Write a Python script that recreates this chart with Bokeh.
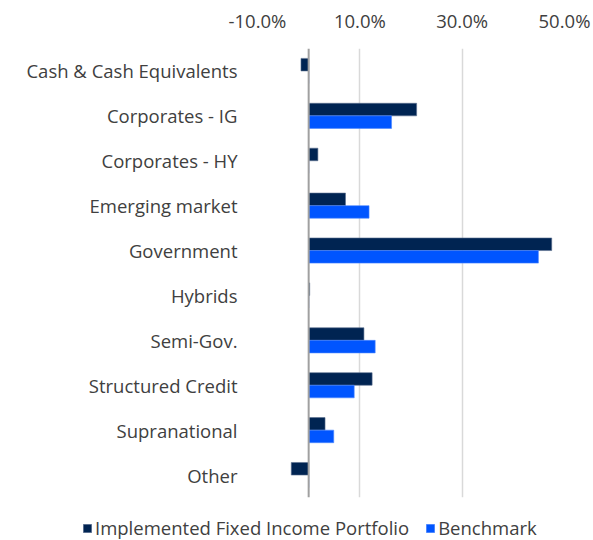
from bokeh.plotting import figure
from bokeh.layouts import column
from bokeh.models import (Span, Legend, LegendItem, FixedTicker, Range1d,
                          FactorRange, CustomJSTickFormatter, ColumnDataSource)
from bokeh.transform import dodge
from bokeh.embed import file_html
from bokeh.resources import INLINE

categories = ["Cash & Cash Equivalents", "Corporates - IG", "Corporates - HY",
              "Emerging market", "Government", "Hybrids", "Semi-Gov.",
              "Structured Credit", "Supranational", "Other"]
portfolio = [-1.5, 21.1, 1.8, 7.2, 47.5, 0.2, 10.8, 12.4, 3.2, -3.4]
benchmark = [0.0, 16.2, 0.0, 11.8, 44.9, 0.0, 13.0, 8.9, 4.9, 0.0]
x_ticks = [-10, 10, 30, 50]
series_names = ["Implemented Fixed Income Portfolio", "Benchmark"]

DARK = "#002452"
BLUE = "#0055FF"
TEXT = "#404040"
FONT = "Open Sans"
FS = "18.5px"

p = figure(width=593, height=505, output_backend="svg", toolbar_location=None,
           y_range=FactorRange(factors=list(reversed(categories)), range_padding=0),
           x_range=Range1d(-10, 50), x_axis_location="above",
           min_border_left=257, min_border_right=29, min_border_top=48,
           min_border_bottom=8)
p.outline_line_color = None

src = dict(cat=categories, port=portfolio, bench=benchmark)

p.hbar(y=dodge("cat", 0.14, range=p.y_range), right="port", left=0, height=0.28,
       source=src, fill_color=DARK, line_color="#5a6f8f", line_width=0.6)
p.hbar(y=dodge("cat", -0.14, range=p.y_range), right="bench", left=0, height=0.28,
       source=src, fill_color=BLUE, line_color="#4d88ff", line_width=0.6)

p.add_layout(Span(location=0, dimension="height", line_color="#a0a0a0", line_width=2))

p.xaxis.ticker = FixedTicker(ticks=x_ticks)
p.xaxis.formatter = CustomJSTickFormatter(code="return tick.toFixed(1) + '%';")
for ax in (p.xaxis, p.yaxis):
    ax.axis_line_color = None
    ax.major_tick_line_color = None
    ax.minor_tick_line_color = None
    ax.major_label_text_font = FONT
    ax.major_label_text_font_size = FS
    ax.major_label_text_color = TEXT
p.xaxis.major_label_standoff = 10
p.yaxis.major_label_standoff = 14

p.xgrid.ticker = FixedTicker(ticks=x_ticks)
p.xgrid.grid_line_color = "#d9d9d9"
p.xgrid.grid_line_width = 1.5
p.ygrid.grid_line_color = None

# legend strip below the chart
lf = figure(width=593, height=35, output_backend="svg", toolbar_location=None,
            x_range=Range1d(0, 1), y_range=Range1d(0, 1),
            min_border_left=0, min_border_right=0, min_border_top=0,
            min_border_bottom=0)
lf.frame_align = False
lf.axis.visible = False
lf.grid.visible = False
lf.outline_line_color = None
swatch = ColumnDataSource(dict(y=[-10], r=[0]))
l1 = lf.hbar(y="y", right="r", left=0, height=0.5, source=swatch,
             fill_color=DARK, line_color="#5a6f8f")
l2 = lf.hbar(y="y", right="r", left=0, height=0.5, source=swatch,
             fill_color=BLUE, line_color="#4d88ff")
legend = Legend(items=[LegendItem(label=series_names[0], renderers=[l1]),
                       LegendItem(label=series_names[1], renderers=[l2])],
                orientation="horizontal", location=(82, 0),
                label_text_font=FONT, label_text_font_size=FS,
                label_text_color=TEXT, glyph_width=10, glyph_height=10,
                label_standoff=3, spacing=16, padding=0, margin=0,
                label_height=18,
                border_line_color=None, background_fill_alpha=0)
lf.add_layout(legend, "center")

open("out.html", "w").write(file_html(column(p, lf, spacing=0), INLINE))
